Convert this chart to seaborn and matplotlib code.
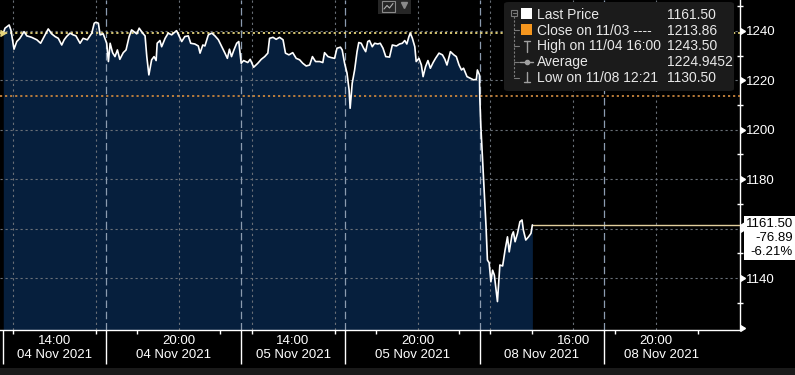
import numpy as np
import pandas as pd
import seaborn as sns
import matplotlib.pyplot as plt
from matplotlib.patches import Rectangle, FancyBboxPatch
from matplotlib.lines import Line2D

# intraday prices, one list pair per trading session
nov04_time = ["11:32", "11:37", "11:49", "11:54", "12:03", "12:11", "12:20", "12:32", "12:40", "12:54",
              "13:09", "13:20", "13:33", "13:42", "13:52", "14:02", "14:11", "14:21", "14:28", "14:35",
              "14:45", "14:54", "15:02", "15:14", "15:23", "15:35", "15:48", "15:55", "16:00", "16:07",
              "16:12", "16:21", "16:31", "16:36", "16:41", "16:48", "16:55", "17:02", "17:09", "17:19",
              "17:27", "17:36", "17:43", "17:58", "18:05", "18:15", "18:22", "18:27", "18:33", "18:41",
              "18:48", "18:54", "18:57", "19:05", "19:10", "19:20", "19:29", "19:39", "19:53", "20:01",
              "20:08", "20:17", "20:27", "20:34", "20:46", "20:56", "21:01", "21:09", "21:15", "21:25",
              "21:35", "21:44", "21:54", "22:04", "22:13", "22:20", "22:26", "22:32", "22:39", "22:47",
              "22:53"]
nov04_price = [1239.1, 1241.1, 1242.4, 1240.4, 1232.6, 1235.7, 1237.0, 1239.7, 1238.0, 1237.4,
               1236.4, 1235.0, 1238.4, 1240.8, 1238.8, 1237.7, 1237.0, 1234.3, 1236.4, 1237.7,
               1239.1, 1238.4, 1238.0, 1235.0, 1237.0, 1236.4, 1239.1, 1243.1, 1243.5, 1243.1,
               1238.4, 1238.8, 1235.0, 1227.6, 1235.0, 1231.2, 1229.6, 1232.3, 1228.5, 1231.2,
               1232.3, 1237.7, 1240.4, 1238.8, 1241.1, 1239.1, 1238.0, 1229.6, 1222.2, 1228.3,
               1229.6, 1228.0, 1235.0, 1236.1, 1233.6, 1237.0, 1239.1, 1238.4, 1240.1, 1237.7,
               1235.7, 1237.7, 1238.0, 1235.0, 1234.7, 1233.9, 1231.0, 1234.3, 1233.9, 1238.4,
               1239.1, 1238.0, 1236.4, 1233.6, 1231.0, 1228.9, 1232.6, 1229.6, 1232.3, 1235.0,
               1235.7]

nov05_time = ["11:30", "11:37", "11:49", "11:56", "12:06", "12:18", "12:28", "12:38", "12:47", "12:52",
              "13:02", "13:11", "13:21", "13:31", "13:38", "13:48", "13:59", "14:09", "14:19", "14:28",
              "14:38", "14:48", "14:56", "15:05", "15:17", "15:26", "15:31", "15:41", "15:50", "16:00",
              "16:07", "16:17", "16:22", "16:29", "16:36", "16:42", "16:45", "16:51", "16:58", "17:05",
              "17:10", "17:17", "17:24", "17:30", "17:36", "17:41", "17:49", "17:56", "18:05", "18:12",
              "18:20", "18:28", "18:39", "18:47", "18:59", "19:08", "19:16", "19:23", "19:29", "19:35",
              "19:39", "19:45", "19:52", "19:56", "20:04", "20:11", "20:16", "20:23", "20:30", "20:37",
              "20:45", "20:52", "21:02", "21:12", "21:19", "21:25", "21:35", "21:45", "21:52", "22:00",
              "22:07", "22:13", "22:23", "22:32", "22:42", "22:50", "22:53", "22:59"]
nov05_price = [1226.9, 1228.0, 1227.2, 1228.5, 1225.3, 1226.9, 1228.5, 1229.6, 1231.0, 1237.0,
               1237.4, 1236.6, 1237.4, 1236.4, 1231.0, 1230.3, 1231.2, 1228.9, 1228.3, 1226.9,
               1225.8, 1226.2, 1229.6, 1227.6, 1227.6, 1227.2, 1231.2, 1229.6, 1229.2, 1228.9,
               1233.0, 1233.4, 1232.3, 1226.9, 1222.9, 1216.1, 1208.7, 1218.8, 1224.2, 1231.6,
               1235.3, 1235.0, 1233.0, 1231.6, 1235.7, 1236.1, 1233.6, 1235.0, 1234.7, 1235.0,
               1233.0, 1229.6, 1229.4, 1234.3, 1233.9, 1234.7, 1235.0, 1236.1, 1234.7, 1237.7,
               1239.1, 1237.0, 1233.6, 1227.6, 1228.9, 1226.2, 1221.5, 1225.5, 1228.0, 1224.9,
               1227.2, 1228.9, 1231.0, 1230.3, 1228.5, 1226.2, 1231.6, 1230.3, 1229.6, 1226.2,
               1224.2, 1224.9, 1221.5, 1220.9, 1220.2, 1220.4, 1224.2, 1222.2]

nov08_time = ["11:30", "11:33", "11:38", "11:43", "11:48", "11:52", "11:57", "12:02", "12:07", "12:12",
              "12:21", "12:25", "12:28", "12:36", "12:43", "12:50", "12:55", "13:03", "13:07", "13:12",
              "13:19", "13:26", "13:32", "13:36", "13:43", "13:51", "13:58", "14:02"]
nov08_price = [1212.8, 1201.3, 1187.8, 1174.3, 1160.8, 1147.3, 1146.2, 1138.5, 1143.2, 1141.2,
               1130.5, 1139.2, 1145.3, 1144.9, 1151.3, 1156.7, 1150.6, 1157.4, 1158.7, 1154.7,
               1158.1, 1162.8, 1163.5, 1159.4, 1155.4, 1156.7, 1158.1, 1161.5]

last_price = 1161.50
prev_close = 1213.86
high_price = 1243.50
avg_price = 1224.9452
low_price = 1130.50
net_change = -76.89
pct_change = -6.21

session_dates = ["04 Nov 2021", "05 Nov 2021", "08 Nov 2021"]
session_open = "11:30"
session_close = "23:00"
us_open = ["16:30", "16:30", "17:30"]
axis_label_times = [["14:00", "20:00"], ["14:00", "20:00"], ["16:00", "20:00"]]
grid_times = ["12:00", "16:00", "20:00"]
small_tick_times = ["12:00", "14:00", "16:00", "18:00", "20:00", "22:00"]
y_major = [1120, 1140, 1160, 1180, 1200, 1220, 1240]
y_labels = ["", "1140", "", "1180", "1200", "1220", "1240"]  # 1120 cut off, 1160 under the price tag
y_minor = [1130, 1150, 1170, 1190, 1210, 1230, 1250]


def clock(t):
    h, m = t.split(":")
    return int(h) + int(m) / 60


SESSION_LEN = clock(session_close) - clock(session_open)


def trade_pos(session, t):
    return session * SESSION_LEN + clock(t) - clock(session_open)


frames = []
for i, (times, prices) in enumerate([(nov04_time, nov04_price), (nov05_time, nov05_price),
                                      (nov08_time, nov08_price)]):
    frames.append(pd.DataFrame({"pos": [trade_pos(i, t) for t in times], "price": prices}))
df = pd.concat(frames, ignore_index=True)

W, H = 795, 375


def fx(px):
    return px / W


def fy(py):
    return 1 - py / H


sns.set_theme(style="dark")
plt.rcParams['font.family'] = ['Liberation Sans', 'DejaVu Sans']

NAVY = '#061f3d'
GRID = '#6a7078'
FS = 9.5

fig = plt.figure(figsize=(W / 100, H / 100), dpi=100, facecolor='black')
ax = fig.add_axes([0, 45 / H, 740 / W, 330 / H])
ax.set_facecolor('black')
ax.grid(False)

x_lo, x_hi = -0.125, 35.54
y_lo, y_hi = 1119.0, 1252.5
ax.set_xlim(x_lo, x_hi)
ax.set_ylim(y_lo, y_hi)

# area + price line
ax.fill_between(df['pos'], df['price'], y_lo, color=NAVY, lw=0, zorder=1)
sns.lineplot(data=df, x='pos', y='price', color='white', lw=1.2, estimator=None, ax=ax, zorder=6)
last_pos = df['pos'].iloc[-1]
ax.plot([last_pos, x_hi], [last_price, last_price], color='#e2cf9e', lw=1, zorder=5)

# grid
for y in y_major[1:]:
    ax.axhline(y, color=GRID, lw=0.8, ls=(0, (2, 2.5)), zorder=2)
for s in range(3):
    for t in grid_times:
        ax.axvline(trade_pos(s, t), color=GRID, lw=0.8, ls=(0, (2, 3)), zorder=2)

seps = []
for s in range(3):
    seps += [trade_pos(s, session_open), trade_pos(s, us_open[s])]
for p in seps[1:]:
    ax.axvline(p, color='#8c9cb0', lw=0.9, ls=(0, (6, 3)), zorder=2)

# reference lines
open_ref = df['price'].iloc[0]
ax.axhline(open_ref, color='#e6d47c', lw=1.3, ls=(0, (1.2, 1.6)), zorder=3)
ax.axhline(prev_close, color='#c8843c', lw=1.3, ls=(0, (1.2, 1.6)), zorder=3)
ax.plot([x_lo], [open_ref], marker=9, color='#e6d47c', ms=5, clip_on=False, zorder=7)

# spines
for side in ['left', 'top']:
    ax.spines[side].set_visible(False)
for side in ['right', 'bottom']:
    ax.spines[side].set_color('white')
    ax.spines[side].set_linewidth(1)

# y axis on the right with caret ticks
ax.yaxis.tick_right()
ax.set_yticks(y_major, labels=y_labels)
ax.set_yticks(y_minor, minor=True)
ax.tick_params(axis='y', which='major', length=0, pad=4.5, labelsize=FS, labelcolor='white')
ax.tick_params(axis='y', which='minor', length=4, width=1, direction='inout', color='white', right=True)
ax.plot(np.ones(len(y_major)), y_major, ls='none', marker=9, ms=4.5, color='white',
        transform=ax.get_yaxis_transform(), clip_on=False, zorder=8)

# x axis: time labels on ticks, dates centred in segments
label_pos, label_txt = [], []
for s in range(3):
    for t in axis_label_times[s]:
        label_pos.append(trade_pos(s, t))
        label_txt.append(t)
ax.set_xticks(label_pos, labels=label_txt)
ax.set_xticks([trade_pos(s, t) for s in range(3) for t in small_tick_times], minor=True)
ax.tick_params(axis='x', which='major', length=0, pad=3.5, labelsize=FS, labelcolor='white')
ax.tick_params(axis='x', which='minor', length=3, width=1, direction='out', color='white', bottom=True)
ax.set_xlabel('')
ax.set_ylabel('')

bounds = []
for s in range(3):
    bounds.append((trade_pos(s, session_open), trade_pos(s, us_open[s]), session_dates[s]))
    bounds.append((trade_pos(s, us_open[s]), trade_pos(s, session_close), session_dates[s]))
for a, b, d in bounds:
    ax.text((a + b) / 2, -25 / 330, d, transform=ax.get_xaxis_transform(), ha='center', va='center',
            fontsize=FS, color='white')
ax.vlines(seps, -34 / 330, 0, transform=ax.get_xaxis_transform(), color='white', lw=1, clip_on=False)

# last price tag
ax.annotate(f"{last_price:.2f}\n{net_change:.2f}\n{pct_change:.2f}%", xy=(793 / 740, last_price),
            xycoords=('axes fraction', 'data'), xytext=(0, 5), textcoords='offset points',
            ha='right', va='top', multialignment='right', fontsize=FS, color='black', linespacing=1.2,
            bbox=dict(boxstyle='square,pad=0.15', fc='white', ec='none'), annotation_clip=False, zorder=9)
ax.plot([745 / 740], [last_price], marker=8, ms=5, color='white', transform=ax.get_yaxis_transform(),
        clip_on=False, zorder=9)

# legend panel
fig.add_artist(FancyBboxPatch((fx(504), fy(91)), fx(734) - fx(504), (91 - 2) / H,
                              boxstyle='round,pad=0,rounding_size=0.006', transform=fig.transFigure,
                              fc='#1b1b1b', ec='none', zorder=10))
tree = '#7a7a7a'
fig.add_artist(Rectangle((fx(511), fy(16)), 6 / W, 6.5 / H, transform=fig.transFigure, fill=False,
                         ec=tree, lw=0.8, zorder=11))
fig.add_artist(Line2D([fx(512.5), fx(515.5)], [fy(12.7), fy(12.7)], transform=fig.transFigure,
                      color=tree, lw=0.8, zorder=11))
fig.add_artist(Line2D([fx(514), fx(514)], [fy(16), fy(78)], transform=fig.transFigure, color=tree,
                      lw=0.8, ls=(0, (2, 1.5)), zorder=11))
for yy in [30, 46, 62, 78]:
    fig.add_artist(Line2D([fx(514), fx(519)], [fy(yy), fy(yy)], transform=fig.transFigure,
                          color=tree, lw=0.8, zorder=11))
fig.add_artist(Rectangle((fx(521), fy(19)), 11 / W, 11 / H, transform=fig.transFigure, fc='white',
                         ec='none', zorder=11))
fig.add_artist(Rectangle((fx(521), fy(35)), 11 / W, 11 / H, transform=fig.transFigure, fc='#f5961e',
                         ec='none', zorder=11))
sym = '#a0a0a0'
fig.add_artist(Line2D([fx(524), fx(530)], [fy(41), fy(41)], transform=fig.transFigure, color=sym, lw=1, zorder=11))
fig.add_artist(Line2D([fx(527), fx(527)], [fy(41), fy(52)], transform=fig.transFigure, color=sym, lw=1, zorder=11))
fig.add_artist(Line2D([fx(520), fx(533)], [fy(62), fy(62)], transform=fig.transFigure, color=sym, lw=1, zorder=11))
fig.add_artist(Line2D([fx(527)], [fy(62)], transform=fig.transFigure, color=sym, marker='o', ms=3, zorder=11))
fig.add_artist(Line2D([fx(527), fx(527)], [fy(72), fy(82)], transform=fig.transFigure, color=sym, lw=1, zorder=11))
fig.add_artist(Line2D([fx(524), fx(530)], [fy(82), fy(82)], transform=fig.transFigure, color=sym, lw=1, zorder=11))

legend_rows = [("Last Price", f"{last_price:.2f}"),
               ("Close on 11/03 ----", f"{prev_close:.2f}"),
               ("High on 11/04 16:00", f"{high_price:.2f}"),
               ("Average", f"{avg_price:.4f}"),
               ("Low on 11/08 12:21", f"{low_price:.2f}")]
for (name, val), yy in zip(legend_rows, [14.7, 30.7, 46, 62, 78]):
    fig.text(fx(537), fy(yy), name, ha='left', va='center', fontsize=FS + 0.5, color='#e8e8e8', zorder=12)
    fig.text(fx(667), fy(yy), val, ha='left', va='center', fontsize=FS + 0.5, color='#e8e8e8', zorder=12)

# chart type button at top
fig.add_artist(Rectangle((fx(378), fy(14)), 33 / W, 14 / H, transform=fig.transFigure, fc='#262626',
                         ec='none', zorder=10))
fig.add_artist(Rectangle((fx(382), fy(12)), 13 / W, 11 / H, transform=fig.transFigure, fill=False,
                         ec='#8a8a8a', lw=0.8, zorder=11))
fig.add_artist(Line2D([fx(384), fx(387), fx(389.5), fx(393)], [fy(9), fy(5.5), fy(8), fy(3.5)],
                      transform=fig.transFigure, color='#b0b0b0', lw=0.8, zorder=11))
fig.add_artist(Line2D([fx(404)], [fy(4.5)], transform=fig.transFigure, color='#8a8a8a', marker='v',
                      ms=4, ls='none', zorder=11))

# bottom strip
fig.add_artist(Rectangle((0, 0), 1, 7 / H, transform=fig.transFigure, fc='#1a1a1a', ec='none', zorder=10))

fig.savefig('out.png', dpi=100, facecolor='black')
